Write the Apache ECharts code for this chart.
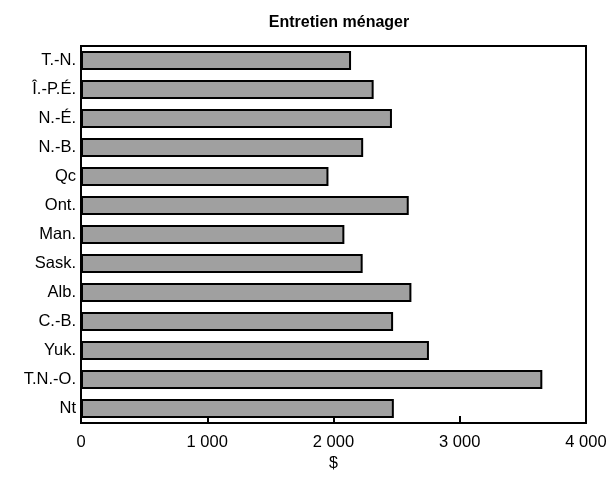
<!DOCTYPE html>
<html><head><meta charset="utf-8">
<script src="https://cdn.jsdelivr.net/npm/echarts@6/dist/echarts.min.js"></script>
<style>html,body{margin:0;padding:0;background:#fff}#c{width:613px;height:478px}</style>
</head><body><div id="c"></div>
<script>
const categories = ["T.-N.","Î.-P.É.","N.-É.","N.-B.","Qc","Ont.","Man.","Sask.","Alb.","C.-B.","Yuk.","T.N.-O.","Nt"];
const values = [2139, 2318, 2463, 2235, 1960, 2596, 2086, 2231, 2617, 2472, 2756, 3654, 2478];
const xTicks = [0, 1000, 2000, 3000, 4000];

const chart = echarts.init(document.getElementById('c'));
const ff = '"Liberation Sans", Arial, sans-serif';
chart.setOption({
  animation: false,
  title: {text: 'Entretien ménager', left: 334, textAlign: 'center', top: 10,
    textStyle: {fontFamily: ff, fontSize: 16, fontWeight: 'bold', color: '#000'}},
  grid: {left: 81, right: 27, top: 46, bottom: 55, show: true, borderColor: '#000', borderWidth: 2, backgroundColor: 'transparent'},
  xAxis: {type: 'value', min: xTicks[0], max: xTicks[xTicks.length-1], interval: 1000,
    name: '$', nameLocation: 'middle', nameGap: 33,
    nameTextStyle: {fontFamily: ff, fontSize: 16, color: '#000'},
    axisLine: {show: true, lineStyle: {color: '#000', width: 2}},
    axisTick: {show: true, inside: true, length: 7, lineStyle: {color: '#000', width: 2}},
    splitLine: {show: false},
    axisLabel: {fontFamily: ff, fontSize: 16.5, color: '#000', margin: 11,
      formatter: v => String(v).replace(/\B(?=(\d{3})+(?!\d))/g, ' ')}},
  yAxis: {type: 'category', data: categories, inverse: true,
    axisLine: {show: true, lineStyle: {color: '#000', width: 2}},
    axisTick: {show: false},
    axisLabel: {fontFamily: ff, fontSize: 16.5, color: '#000', margin: 5}},
  series: [{type: 'bar', data: values, barWidth: 19,
    itemStyle: {color: '#a0a0a0', borderColor: '#000', borderWidth: 2}}]
});
</script></body></html>
